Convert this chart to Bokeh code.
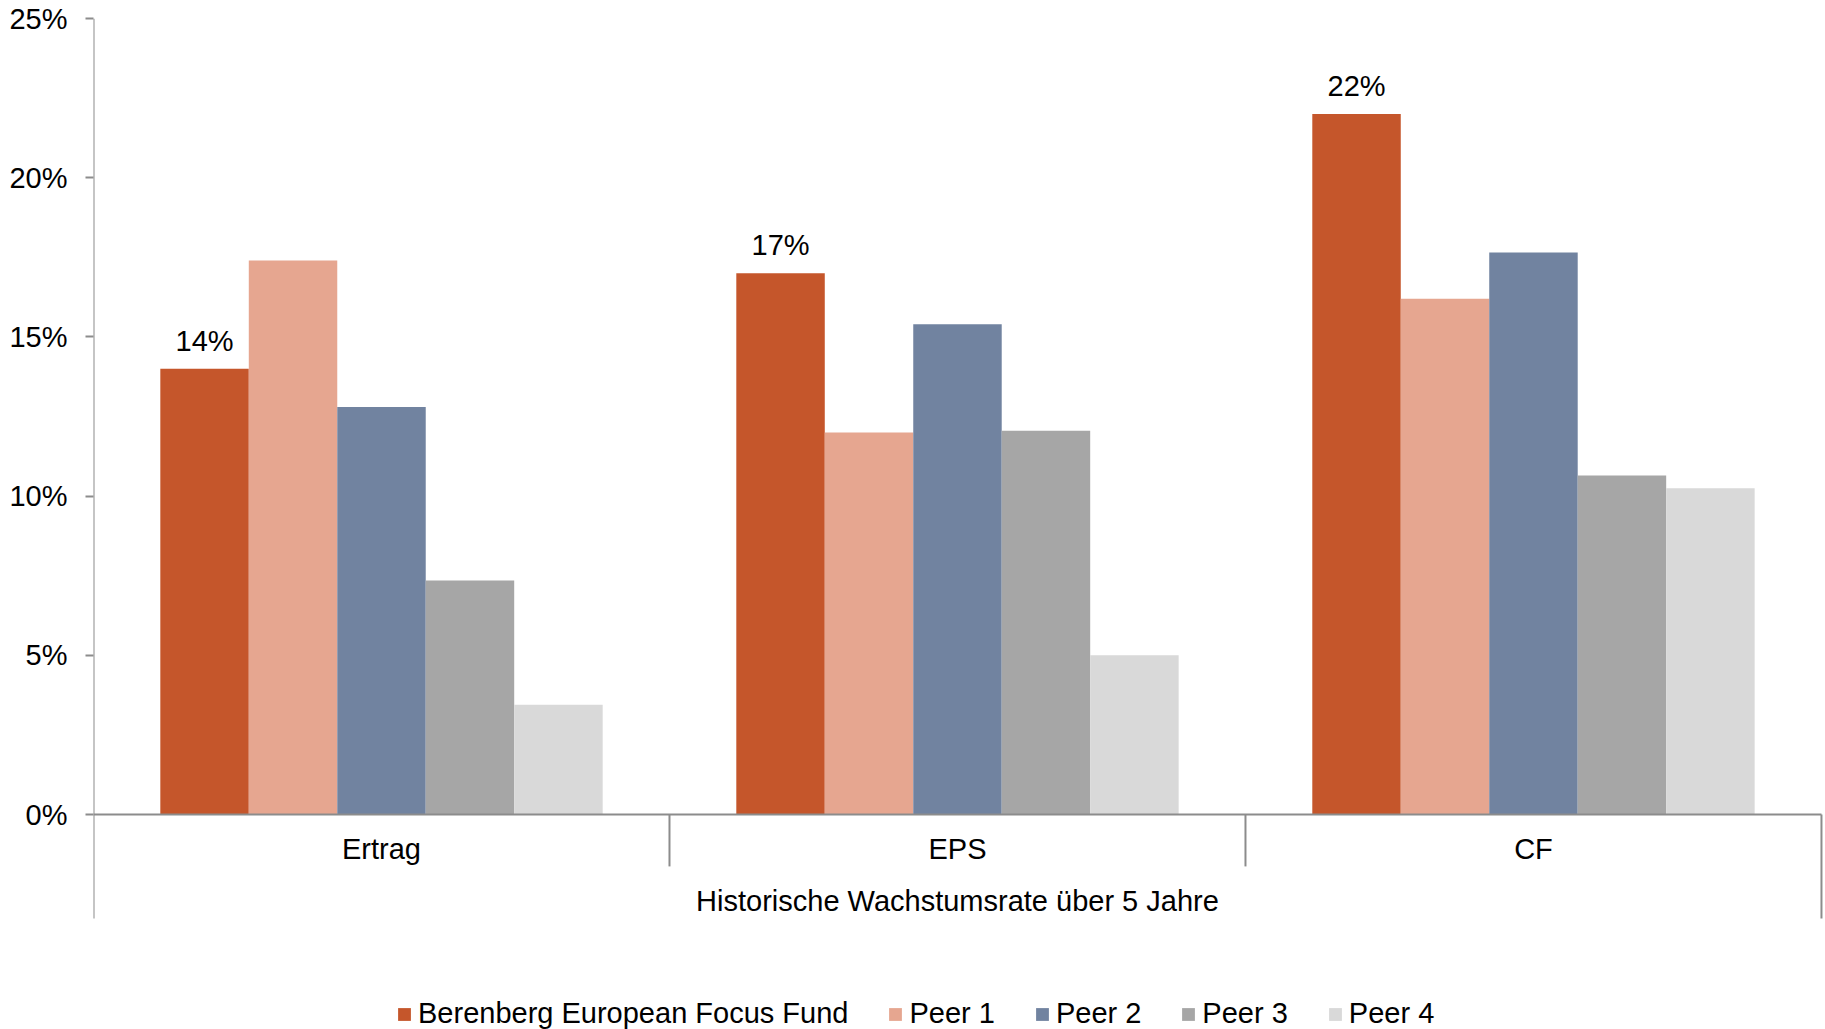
from bokeh.plotting import figure
from bokeh.models import Range1d, Legend, LegendItem, FixedTicker, PrintfTickFormatter
from bokeh.core.properties import value
from bokeh.embed import file_html
from bokeh.resources import INLINE

# Growth rates (%) per metric
categories = ["Ertrag", "EPS", "CF"]
series_names = ["Berenberg European Focus Fund", "Peer 1", "Peer 2", "Peer 3", "Peer 4"]
fund = [14, 17, 22]
peer1 = [17.4, 12.0, 16.2]
peer2 = [12.8, 15.4, 17.65]
peer3 = [7.35, 12.05, 10.65]
peer4 = [3.45, 5.0, 10.25]
colors = ["#C5562B", "#E6A690", "#7183A0", "#A6A6A6", "#D9D9D9"]
y_ticks = [0, 5, 10, 15, 20, 25]
group_title = "Historische Wachstumsrate über 5 Jahre"

FONT = "Liberation Sans"
FS = "29px"
AXIS_COLOR = "#8C8C8C"

Y_TOP = 25
Y_BOTTOM = -6.752      # frame reaches the page bottom so the legend fits inside
AXIS_FLOOR = -3.266    # where the left/right axis lines stop

p = figure(width=1825, height=1029, output_backend="svg", toolbar_location=None,
           x_range=Range1d(0, 3.007), y_range=Range1d(Y_BOTTOM, Y_TOP),
           x_axis_location=None,
           min_border_left=93, min_border_right=0, min_border_top=18, min_border_bottom=0)
p.outline_line_color = None
p.xgrid.visible = False
p.ygrid.visible = False
p.background_fill_color = "white"
p.border_fill_color = "white"

# y axis (line drawn separately so it stops below the category labels)
ax = p.yaxis[0]
ax.ticker = FixedTicker(ticks=y_ticks)
ax.formatter = PrintfTickFormatter(format="%d%%")
ax.axis_line_color = None
ax.major_tick_line_color = AXIS_COLOR
ax.major_tick_line_width = 2
ax.major_tick_in = 0
ax.major_tick_out = 8
ax.minor_tick_line_color = None
ax.major_label_standoff = 18
ax.major_label_text_font = FONT
ax.major_label_text_font_size = FS
ax.major_label_text_color = "#000000"

# grouped bars
bar_w = 0.1536
pad = (1 - 5 * bar_w) / 2
all_series = [fund, peer1, peer2, peer3, peer4]
renderers = []
for j, vals in enumerate(all_series):
    xs = [i + pad + (j + 0.5) * bar_w for i in range(len(categories))]
    r = p.vbar(x=xs, top=vals, bottom=0, width=bar_w, fill_color=colors[j], line_color=None)
    renderers.append(r)
    if j == 0:
        p.text(x=xs, y=vals, text=[f"{v:.0f}%" for v in vals],
               text_align="center", text_baseline="alphabetic", y_offset=-28,
               text_font=value(FONT), text_font_size=FS, text_color="#000000")

# axis lines: vertical value axis and the category axis at zero
n = len(categories)
p.segment(x0=[0], y0=[Y_TOP], x1=[0], y1=[AXIS_FLOOR], line_color=AXIS_COLOR, line_width=2)
p.segment(x0=[0], y0=[0], x1=[n], y1=[0], line_color=AXIS_COLOR, line_width=2)
p.segment(x0=list(range(1, n)), y0=[0] * (n - 1), x1=list(range(1, n)), y1=[-1.63] * (n - 1),
          line_color=AXIS_COLOR, line_width=2)
p.segment(x0=[n], y0=[0], x1=[n], y1=[AXIS_FLOOR], line_color=AXIS_COLOR, line_width=2)
p.text(x=[i + 0.5 for i in range(n)], y=[-1.07] * n, text=categories,
       text_align="center", text_baseline="middle",
       text_font=value(FONT), text_font_size=FS, text_color="#000000")
p.text(x=[n / 2], y=[-2.73], text=[group_title],
       text_align="center", text_baseline="middle",
       text_font=value(FONT), text_font_size=FS, text_color="#000000")

# legend along the bottom
legend = Legend(items=[LegendItem(label=nm, renderers=[r]) for nm, r in zip(series_names, renderers)],
                orientation="horizontal", location=(303, -1),
                padding=0, margin=0, spacing=39, label_standoff=6,
                glyph_width=16, glyph_height=16,
                border_line_color=None, background_fill_alpha=0,
                label_text_font=FONT, label_text_font_size=FS, label_text_color="#000000")
p.add_layout(legend, "center")

open("out.html", "w").write(file_html(p, INLINE))
